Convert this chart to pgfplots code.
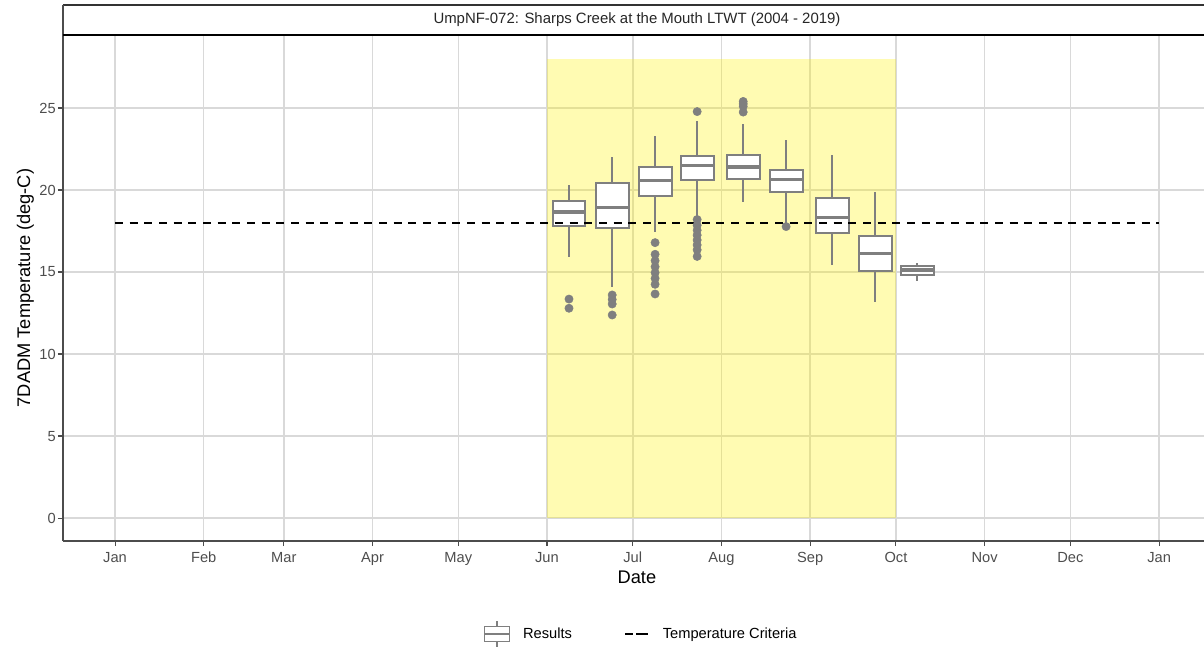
\documentclass[border=0pt]{standalone}
\usepackage{fontspec}
\setmainfont{Liberation Sans}
\usepackage{pgfplots}
\pgfplotsset{compat=1.18}
\definecolor{boxgray}{HTML}{7F7F7F}
\definecolor{gridgray}{HTML}{D9D9D9}
\definecolor{ticktext}{HTML}{4D4D4D}
\pgfplotsset{
  boxrect/.style={draw=boxgray, fill=white, line width=1.5pt, forget plot}
}
\begin{document}
\begin{tikzpicture}
\path[use as bounding box] (-47.25pt,-79.5pt) rectangle (855.75pt,405.75pt);
\begin{axis}[
  at={(0,0)}, anchor=south west,
  scale only axis, width=855.75pt, height=379.5pt,
  xmin=-18.2, xmax=380.7, ymin=-1.4, ymax=29.45,
  axis x line*=bottom, axis y line*=left,
  axis line style={black!70, line width=0.9pt},
  xtick={0,31,59,90,120,151,181,212,243,273,304,334,365},
  xticklabels={Jan,Feb,Mar,Apr,May,Jun,Jul,Aug,Sep,Oct,Nov,Dec,Jan},
  ytick={0,5,10,15,20,25},
  tick align=outside, major tick length=3.75pt,
  tick style={black!70, line width=0.8pt},
  grid=major, major grid style={gridgray, line width=1.1pt},
  ticklabel style={font=\fontsize{11}{13}\selectfont, text=ticktext},
  /pgf/number format/assume math mode=true,
  yticklabel style={inner sep=1.5pt},
  xticklabel style={inner sep=2pt, yshift=-2.5pt},
  xlabel={Date}, ylabel={7DADM Temperature (deg-C)},
  label style={font=\fontsize{13.7}{16}\selectfont},
  x label style={at={(axis description cs:0.503,-0.0711)}, anchor=center},
  y label style={at={(axis description cs:-0.0330,0.5)}, anchor=center},
  legend columns=2,
  legend style={at={(axis description cs:0.507,-0.1838)}, anchor=center, draw=none, fill=none,
    font=\fontsize{11}{13}\selectfont,
    /tikz/every odd column/.append style={column sep=7.5pt},
    /tikz/every even column/.append style={column sep=37.5pt}},
  legend cell align=left,
  unbounded coords=jump,
]
% June-September shaded window
\addplot[fill=yellow, fill opacity=0.3, draw=none, forget plot]
  coordinates {(151,0) (151,28) (273,28) (273,0)} -- cycle;

% whiskers (lower whisker to upper whisker, per half-month bin)
\addplot[boxgray, line width=1.5pt,
  legend image code/.code={
    \draw[boxgray, line width=1.2pt] (9.375pt,5.6pt) -- (9.375pt,9.4pt);
    \draw[boxgray, line width=1.2pt] (9.375pt,-5.6pt) -- (9.375pt,-9.4pt);
    \draw[boxgray, line width=1.2pt, fill=white] (0pt,-5.6pt) rectangle (18.75pt,5.6pt);
    \draw[boxgray, line width=1.2pt] (0pt,0pt) -- (18.75pt,0pt);}]
  coordinates {
  (158.7,15.93) (158.7,20.3) (158.7,nan)
  (173.8,14.1)  (173.8,22.03) (173.8,nan)
  (188.8,17.46) (188.8,23.31) (188.8,nan)
  (203.5,18.35) (203.5,24.23) (203.5,nan)
  (219.6,19.29) (219.6,24.02) (219.6,nan)
  (234.6,17.95) (234.6,23.05) (234.6,nan)
  (250.7,15.45) (250.7,22.13) (250.7,nan)
  (265.7,13.19) (265.7,19.9)  (265.7,nan)
  (280.4,14.47) (280.4,15.53)
  };
\addlegendentry{Results}

% boxes (lower quartile to upper quartile)
\addplot[boxrect] coordinates {(152.95,17.8) (152.95,19.35) (164.45,19.35) (164.45,17.8)} -- cycle;
\addplot[boxrect] coordinates {(168.05,17.7) (168.05,20.45) (179.55,20.45) (179.55,17.7)} -- cycle;
\addplot[boxrect] coordinates {(183.05,19.65) (183.05,21.38) (194.55,21.38) (194.55,19.65)} -- cycle;
\addplot[boxrect] coordinates {(197.75,20.59) (197.75,22.09) (209.25,22.09) (209.25,20.59)} -- cycle;
\addplot[boxrect] coordinates {(213.85,20.69) (213.85,22.15) (225.35,22.15) (225.35,20.69)} -- cycle;
\addplot[boxrect] coordinates {(228.85,19.9) (228.85,21.24) (240.35,21.24) (240.35,19.9)} -- cycle;
\addplot[boxrect] coordinates {(244.95,17.36) (244.95,19.53) (256.45,19.53) (256.45,17.36)} -- cycle;
\addplot[boxrect] coordinates {(259.95,15.06) (259.95,17.2) (271.45,17.2) (271.45,15.06)} -- cycle;
\addplot[boxrect] coordinates {(274.65,14.8) (274.65,15.37) (286.15,15.37) (286.15,14.8)} -- cycle;

% medians
\addplot[boxgray, line width=2.4pt, forget plot] coordinates {
  (152.95,18.66) (164.45,18.66) (164.45,nan)
  (168.05,18.94) (179.55,18.94) (179.55,nan)
  (183.05,20.59) (194.55,20.59) (194.55,nan)
  (197.75,21.5)  (209.25,21.5)  (209.25,nan)
  (213.85,21.4)  (225.35,21.4)  (225.35,nan)
  (228.85,20.63) (240.35,20.63) (240.35,nan)
  (244.95,18.33) (256.45,18.33) (256.45,nan)
  (259.95,16.14) (271.45,16.14) (271.45,nan)
  (274.65,15.12) (286.15,15.12)
  };

% outliers
\addplot[only marks, mark=*, mark size=3.1pt, mark options={fill=boxgray, draw=boxgray, line width=0.4pt}, forget plot]
  coordinates {
  (158.7,13.35) (158.7,12.79)
  (173.8,13.6) (173.8,13.33) (173.8,13.05) (173.8,12.38)
  (188.8,16.79) (188.8,16.08) (188.8,15.69) (188.8,15.32) (188.8,14.96) (188.8,14.61) (188.8,14.25) (188.8,13.66)
  (203.5,24.78) (203.5,18.2) (203.5,17.85) (203.5,17.55) (203.5,17.25) (203.5,16.95) (203.5,16.65) (203.5,16.35) (203.5,15.95)
  (219.6,25.4) (219.6,25.25) (219.6,25.1) (219.6,24.75)
  (234.6,17.77)
  };

% temperature criteria
\addplot[black, line width=1.1pt, dash pattern=on 6pt off 5pt,
  legend image code/.code={\draw[black, line width=1.1pt, dash pattern=on 4pt off 4pt] (0pt,0pt) -- (12pt,0pt); \path (0pt,0pt) -- (18pt,0pt);}]
  coordinates {(0,18) (365,18)};
\addlegendentry{Temperature Criteria}
\end{axis}
% facet strip
\draw[black!80, line width=0.9pt] ([yshift=22.5pt]current axis.north west) -- ([yshift=22.5pt]current axis.north east);
\draw[black!70, line width=0.9pt] (current axis.north west) -- ([yshift=22.5pt]current axis.north west);
\draw[black, line width=1.4pt] (current axis.north west) -- (current axis.north east);
\node[font=\fontsize{11.2}{13}\selectfont, text=black!85] at ([xshift=430.5pt, yshift=11.25pt]current axis.north west) {UmpNF-072: Sharps Creek at the Mouth LTWT (2004 - 2019)};
\end{tikzpicture}
\end{document}
